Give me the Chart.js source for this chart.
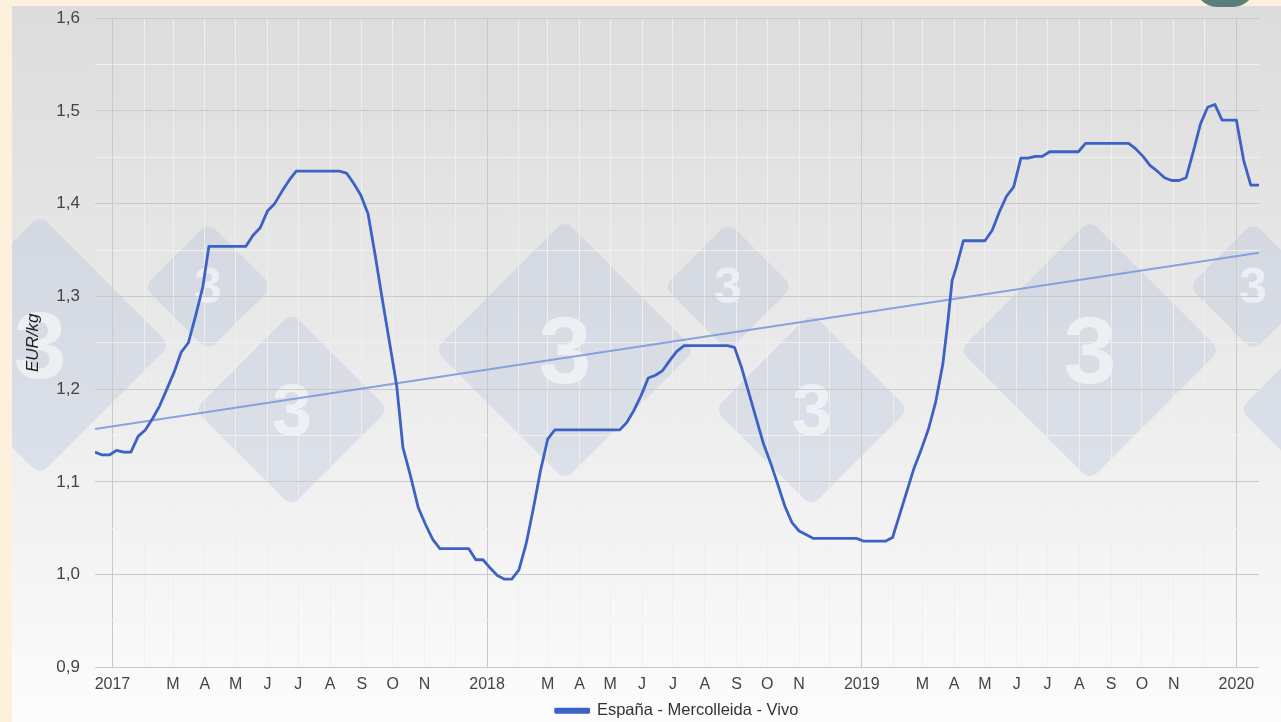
<!DOCTYPE html>
<html>
<head>
<meta charset="utf-8">
<script src="https://cdn.jsdelivr.net/npm/chart.js@4/dist/chart.umd.min.js"></script>
<style>
  html, body { margin: 0; padding: 0; }
  body { width: 1281px; height: 722px; background: #fdf0dc; position: relative; overflow: hidden; }
  #panel {
    position: absolute; left: 12px; top: 6px; right: 0; bottom: 0; overflow: hidden;
    background: linear-gradient(to bottom, #dcdcdc 0%, #e9e9e9 45%, #fcfcfc 100%);
  }
  .dia {
    position: absolute; transform: rotate(45deg); border-radius: 10px;
    background: rgba(178, 192, 218, 0.33);
  }
  .three {
    position: absolute; transform: translate(-50%, -50%);
    font: bold 100px 'Liberation Sans', Arial, sans-serif; color: rgba(255,255,255,0.55);
  }
  #corner {
    position: absolute; left: 1195px; top: -20px; width: 60px; height: 27px;
    border-radius: 0 0 22px 22px; background: #58807a;
  }
  #wrap { position: absolute; left: 0; top: -7px; width: 1281px; height: 736px; }
</style>
</head>
<body>
<div id="panel"></div>
<div id="corner"></div>
<div id="wrap"><canvas id="chart"></canvas></div>
<script>
// Weekly live pig price, Mercolleida (EUR/kg)
const DATES = [
  '2016-12-15', '2016-12-22', '2016-12-29', '2017-01-05', '2017-01-12', '2017-01-19',
  '2017-01-26', '2017-02-02', '2017-02-09', '2017-02-16', '2017-02-23', '2017-03-02',
  '2017-03-09', '2017-03-16', '2017-03-23', '2017-03-30', '2017-04-05', '2017-05-11',
  '2017-05-18', '2017-05-25', '2017-06-01', '2017-06-08', '2017-06-15', '2017-06-22',
  '2017-06-29', '2017-08-10', '2017-08-17', '2017-08-24', '2017-08-31', '2017-09-07',
  '2017-09-14', '2017-09-21', '2017-09-28', '2017-10-05', '2017-10-11', '2017-10-18',
  '2017-10-26', '2017-11-02', '2017-11-09', '2017-11-16', '2017-12-14', '2017-12-21',
  '2017-12-28', '2018-01-04', '2018-01-11', '2018-01-18', '2018-01-25', '2018-02-01',
  '2018-02-08', '2018-02-15', '2018-02-22', '2018-03-01', '2018-03-08', '2018-05-10',
  '2018-05-17', '2018-05-24', '2018-05-31', '2018-06-07', '2018-06-14', '2018-06-21',
  '2018-06-28', '2018-07-05', '2018-07-12', '2018-08-23', '2018-08-30', '2018-09-06',
  '2018-09-13', '2018-09-20', '2018-09-27', '2018-10-04', '2018-10-11', '2018-10-18',
  '2018-10-25', '2018-11-01', '2018-11-08', '2018-11-15', '2018-12-27', '2019-01-03',
  '2019-01-24', '2019-01-31', '2019-02-07', '2019-02-14', '2019-02-21', '2019-02-28',
  '2019-03-07', '2019-03-14', '2019-03-21', '2019-03-26', '2019-03-30', '2019-04-03',
  '2019-04-10', '2019-05-01', '2019-05-08', '2019-05-15', '2019-05-22', '2019-05-29',
  '2019-06-05', '2019-06-12', '2019-06-19', '2019-06-26', '2019-07-03', '2019-07-31',
  '2019-08-07', '2019-09-18', '2019-09-25', '2019-10-02', '2019-10-09', '2019-10-16',
  '2019-10-23', '2019-10-30', '2019-11-06', '2019-11-13', '2019-11-20', '2019-11-27',
  '2019-12-04', '2019-12-11', '2019-12-18', '2020-01-01', '2020-01-08', '2020-01-15',
  '2020-01-23'
];
const PRICES = [
  1.132, 1.129, 1.129, 1.134, 1.132, 1.132,
  1.149, 1.156, 1.168, 1.182, 1.200, 1.218,
  1.240, 1.250, 1.279, 1.310, 1.354, 1.354,
  1.366, 1.374, 1.392, 1.400, 1.413, 1.425,
  1.435, 1.435, 1.433, 1.422, 1.409, 1.389,
  1.344, 1.296, 1.250, 1.203, 1.137, 1.108,
  1.072, 1.054, 1.038, 1.028, 1.028, 1.016,
  1.016, 1.007, 0.999, 0.995, 0.995, 1.005,
  1.033, 1.071, 1.112, 1.146, 1.156, 1.156,
  1.164, 1.177, 1.193, 1.212, 1.215, 1.220,
  1.231, 1.241, 1.247, 1.247, 1.245, 1.223,
  1.196, 1.169, 1.142, 1.121, 1.098, 1.074,
  1.056, 1.047, 1.043, 1.039, 1.039, 1.036,
  1.036, 1.040, 1.065, 1.090, 1.115, 1.135,
  1.157, 1.186, 1.227, 1.274, 1.317, 1.331,
  1.360, 1.360, 1.371, 1.391, 1.408, 1.418,
  1.449, 1.449, 1.451, 1.451, 1.456, 1.456,
  1.465, 1.465, 1.459, 1.451, 1.441, 1.435,
  1.428, 1.425, 1.425, 1.428, 1.456, 1.486,
  1.504, 1.507, 1.490, 1.490, 1.447, 1.420,
  1.420
];
// linear trend line (two ends)
const TREND_DATES = ['2016-12-15', '2020-01-23'];
const TREND_VALUES = [1.157, 1.347];

const SERIES_LABEL = 'España - Mercolleida - Vivo';
const Y_TITLE = 'EUR/kg';
const MONTH_LETTERS = ['', '', 'M', 'A', 'M', 'J', 'J', 'A', 'S', 'O', 'N', ''];

// background watermark (decoration only): [centerX, centerY, halfDiagonal, digitSize]
const WATERMARK = [
  [40, 345, 130, 95], [208, 286, 64, 50], [292, 410, 97, 72],
  [565, 350, 130, 95], [728, 286, 64, 50], [812, 410, 97, 72],
  [1090, 350, 130, 95], [1253, 286, 64, 50], [1337, 410, 97, 72],
];
const panel = document.getElementById('panel');
WATERMARK.forEach(([cx, cy, h, fs]) => {
  const s = h * Math.SQRT2;
  const d = document.createElement('div');
  d.className = 'dia';
  Object.assign(d.style, { left: (cx - 12 - s / 2) + 'px', top: (cy - 6 - s / 2) + 'px', width: s + 'px', height: s + 'px' });
  panel.appendChild(d);
  const t = document.createElement('div');
  t.className = 'three';
  t.textContent = '3';
  Object.assign(t.style, { left: (cx - 12) + 'px', top: (cy - 6) + 'px', fontSize: fs + 'px' });
  panel.appendChild(t);
});

const BASE = Date.UTC(2017, 0, 1);
const DAY = 86400000;
function dayOf(s) {
  const p = s.split('-').map(Number);
  return (Date.UTC(p[0], p[1] - 1, p[2]) - BASE) / DAY;
}
function dateOf(v) { return new Date(BASE + v * DAY); }

const mainPoints = DATES.map((d, i) => ({ x: dayOf(d), y: PRICES[i] }));
const trendPoints = TREND_DATES.map((d, i) => ({ x: dayOf(d), y: TREND_VALUES[i] }));
const xMin = dayOf(DATES[0]);
const xMax = dayOf(DATES[DATES.length - 1]);

// month boundaries inside the range, used as x ticks / gridlines
const monthTicks = [];
for (let y = 2016; y <= 2020; y++) {
  for (let m = 0; m < 12; m++) {
    const v = (Date.UTC(y, m, 1) - BASE) / DAY;
    if (v >= xMin && v <= xMax) monthTicks.push({ value: v });
  }
}

const FONT = "'Liberation Sans', Arial, sans-serif";

new Chart(document.getElementById('chart'), {
  type: 'line',
  data: {
    datasets: [
      {
        label: SERIES_LABEL,
        data: mainPoints,
        borderColor: '#3c62c6',
        backgroundColor: '#3c62c6',
        borderWidth: 2.8,
        pointRadius: 0,
        tension: 0,
        borderJoinStyle: 'round',
      },
      {
        label: 'trend',
        data: trendPoints,
        borderColor: 'rgba(120,148,220,0.85)',
        backgroundColor: 'rgba(120,148,220,0.85)',
        borderWidth: 2,
        pointRadius: 0,
      }
    ]
  },
  options: {
    responsive: true,
    maintainAspectRatio: false,
    animation: false,
    layout: { padding: { left: 23, top: 13, right: 22, bottom: 0 } },
    plugins: {
      tooltip: { enabled: false },
      legend: {
        position: 'bottom',
        fullSize: false,
        labels: {
          filter: (item) => item.text !== 'trend',
          color: '#333',
          font: { size: 16.5, family: FONT },
          boxWidth: 33,
          boxHeight: 3,
          padding: 0,
        }
      }
    },
    scales: {
      x: {
        type: 'linear',
        min: xMin,
        max: xMax,
        afterBuildTicks: (scale) => { scale.ticks = monthTicks.map(t => ({ value: t.value })); },
        ticks: {
          autoSkip: false,
          maxRotation: 0,
          color: '#444',
          padding: 8,
          font: { size: 16, family: FONT },
          callback: (v) => {
            const d = dateOf(v);
            const m = d.getUTCMonth();
            return m === 0 ? String(d.getUTCFullYear()) : MONTH_LETTERS[m];
          }
        },
        grid: {
          drawTicks: false,
          color: (ctx) => {
            if (!ctx.tick) return 'rgba(0,0,0,0)';
            return dateOf(ctx.tick.value).getUTCMonth() === 0 ? '#c9c9c9' : 'rgba(240,240,240,0.9)';
          },
          lineWidth: 1,
        },
        border: { display: false },
      },
      y: {
        min: 0.9,
        max: 1.6,
        afterFit: (scale) => { scale.width = 72; },
        ticks: {
          stepSize: 0.05,
          color: '#444',
          padding: 15,
          font: { size: 17, family: FONT },
          callback: (v) => {
            const h = Math.round(v * 100);
            return h % 10 === 0 ? (h / 100).toFixed(1).replace('.', ',') : '';
          }
        },
        grid: {
          drawTicks: false,
          color: (ctx) => {
            if (!ctx.tick) return 'rgba(0,0,0,0)';
            return Math.round(ctx.tick.value * 100) % 10 === 0 ? '#c9c9c9' : 'rgba(242,242,242,0.9)';
          },
        },
        border: { display: false },
        title: {
          display: true,
          text: Y_TITLE,
          color: '#222',
          font: { size: 17, style: 'italic', family: FONT },
          padding: { top: 0, bottom: 3 },
        }
      }
    }
  }
});
</script>
</body>
</html>
